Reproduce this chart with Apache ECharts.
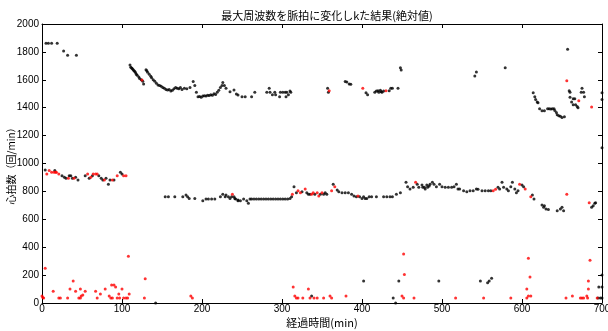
<!DOCTYPE html>
<html>
<head>
<meta charset="utf-8">
<script src="https://cdn.jsdelivr.net/npm/echarts@6/dist/echarts.min.js"></script>
<style>
html, body { margin: 0; padding: 0; background: #fff; }
#chart { width: 608px; height: 331px; }
</style>
</head>
<body>
<div id="chart"></div>
<script>
// 黒の点 [経過時間, 心拍数]
var blackPoints = [
    [5,1862],[8,1862],[12,1862],[19,1862],[27,1807],[32,1776],[43,1776],
    [110,1706],[111,1690],[112,1685],[113,1680],[114,1672],[115,1665],[116,1660],[117,1650],[118,1640],[119,1633],[121,1620],[122,1610],[124,1600],[126,1590],[127,1570],
    [130,1672],[131,1665],[132,1655],[134,1640],[136,1625],[137,1615],[139,1600],[141,1590],[143,1575],[145,1563],[147,1560],[149,1553],[151,1545],[153,1540],[155,1530],[157,1527],[159,1530],[161,1520],[163,1525],[165,1535],[167,1545],[169,1540],[171,1535],[173,1545],[175,1530],[178,1540],[181,1535],[185,1545],
    [189,1587],[191,1560],[193,1510],[195,1479],[197,1480],[199,1475],[201,1483],[203,1485],[205,1483],[207,1490],[209,1488],[211,1492],[213,1490],[215,1500],[217,1495],[219,1510],[221,1525],[223,1545],[225,1560],[226,1580],[228,1560],[230,1540],
    [235,1515],[240,1527],[243,1498],[245,1491],[250,1479],[254,1479],[262,1479],[266,1510],
    [281,1510],[284,1539],[285,1510],[288,1493],[291,1510],[292,1493],[297,1479],[298,1510],[301,1510],[304,1510],[305,1479],[306,1510],[308,1493],[310,1520],[311,1510],
    [357,1539],[358,1510],[379,1587],[381,1585],[384,1570],[386,1568],[405,1507],[407,1493],
    [416,1510],[418,1520],[420,1522],[421,1510],[423,1525],[424,1515],[425,1510],[427,1520],[434,1522],[436,1539],[438,1539],[445,1539],[448,1687],[449,1670],
    [541,1627],[543,1656],[579,1687],
    [614,1508],[616,1479],[617,1458],[619,1441],[620,1436],[622,1393],[625,1379],[628,1379],[632,1393],[634,1393],[636,1390],[638,1393],[640,1393],[641,1380],[643,1365],[644,1350],[646,1343],[648,1338],[650,1329],[653,1336],
    [657,1819],[659,1522],[660,1510],[660,1475],[662,1441],[664,1465],[666,1465],[664,1422],[667,1422],[669,1408],[670,1400],[674,1510],[675,1539],[677,1510],[678,1479],
    [700,1508],[700,1458],[700,1113],
    [4,953],[16,950],[25,913],[28,901],[30,894],[34,913],[36,913],[38,894],[42,901],[45,882],[54,913],[59,894],[63,913],[71,913],[74,894],[76,882],[80,894],[83,851],[85,882],[90,882],[98,937],[100,925],
    [154,762],[158,762],[166,762],[176,762],[180,774],[182,762],[184,750],[191,750],[201,733],[205,745],[208,745],[212,745],[216,745],[223,762],[226,779],[229,762],[230,774],[233,762],[235,750],[237,762],[240,762],[242,745],[245,733],
    [241,750],[245,738],[248,733],[252,745],[256,733],[258,715],[260,745],[262,745],[265,745],[268,745],[271,745],[274,745],[277,745],[280,745],[283,745],[286,745],[289,745],[292,745],[295,745],[298,745],[301,745],[304,745],[307,745],[310,750],[312,762],
    [315,834],[318,791],[325,798],[331,791],[333,779],[335,779],[341,779],[348,779],[352,779],[354,791],[356,779],
    [364,851],[369,810],[371,798],[375,791],[379,791],[383,791],[387,779],[390,767],[393,762],[397,762],[400,750],[402,762],[404,750],[406,750],[409,762],[412,762],[418,762],[427,762],[431,762],[435,762],[438,762],[443,779],[448,791],
    [455,865],[457,834],[460,817],[464,829],[469,851],[471,829],[475,846],[478,829],[481,846],[484,839],
    [476,829],[479,817],[482,829],[485,851],[488,865],[490,851],[493,834],[497,851],[500,834],[504,829],[508,829],[512,829],[515,834],[518,851],[520,817],[522,817],[527,805],[531,798],[535,805],[539,805],[543,817],[545,815],[550,805],[554,805],[558,805],[561,805],
    [570,829],[572,817],[575,865],[577,829],[581,817],[583,805],[586,834],[588,865],[591,817],[593,791],[595,805],[600,846],[602,834],[613,774],[615,745],
    [625,703],[627,686],[628,698],[630,674],[633,671],[644,662],[648,674],[650,686],[652,662],[687,686],[689,698],[691,715],[692,719],
    [337,50],[402,158],[439,36],[442,0],[446,158],[142,0],
    [496,158],[548,158],[557,146],[559,158],[562,177],[696,115],[695,36],[698,36],[700,36],[700,200],[700,115]
];

// 赤の点 [経過時間, 心拍数]
var redPoints = [
    [125,1599],[359,1522],[401,1539],[430,1522],[656,1594],[671,1450],[687,1405],
    [6,925],[9,950],[12,937],[15,937],[17,937],[18,937],[21,925],[33,894],[40,894],[57,925],[61,901],[64,925],[67,925],[69,925],[78,882],[88,882],[94,913],[102,913],[105,913],
    [238,779],[313,779],[320,805],[323,791],[329,817],[337,779],[339,791],[344,791],[346,767],[350,791],[362,805],[366,834],[395,767],[467,865],
    [564,805],[567,815],[597,851],[604,817],[611,762],[656,779],[684,719],
    [0,50],[1,40],[2,36],[4,249],[14,84],[21,36],[23,36],[32,36],[35,100],[39,158],[42,84],[46,36],[48,36],[49,50],[51,57],[48,100],[54,84],[67,84],[69,36],[73,64],[79,100],
    [84,50],[86,36],[88,36],[87,129],[90,129],[92,115],[94,36],[97,36],[96,64],[100,100],[102,36],[105,36],[107,36],[108,335],[109,64],[128,36],[129,174],[186,50],[188,36],
    [314,115],[316,50],[318,36],[320,36],[326,36],[333,100],[335,36],[340,36],[344,36],[352,36],[360,50],[362,36],[380,50],
    [452,351],[453,205],[450,50],[452,36],[465,36],
    [517,36],[552,36],[586,36],[606,36],[608,50],[611,50],[606,100],[608,320],[610,186],
    [655,36],[663,50],[673,36],[675,36],[677,36],[681,50],[682,36],[683,158],[683,100],[685,306],[694,36]
];

var titleText = '最大周波数を脈拍に変化しkた結果(絶対値)';
var xName = '経過時間(min)';
var yName = '心拍数（回/min）';

var chart = echarts.init(document.getElementById('chart'), null, { renderer: 'canvas' });

var baseFont = 'Liberation Sans, Arial, sans-serif';
var cjkFont = 'Noto Sans CJK JP, sans-serif';

function plainNum(v) {
    return String(v);
}

function mirrorAxis(pos) {
    return {
        type: 'value', position: pos, min: 0,
        max: pos === 'top' ? 700 : 2000,
        interval: pos === 'top' ? 100 : 200,
        axisLine: { show: true, onZero: false, lineStyle: { color: '#000', width: 1 } },
        axisTick: { show: true, inside: true, length: 4, lineStyle: { color: '#000' } },
        axisLabel: { show: false },
        splitLine: { show: false }
    };
}

var option = {
    animation: false,
    backgroundColor: '#fff',
    title: {
        text: titleText,
        left: 322, top: 5, textAlign: 'center',
        textStyle: { fontFamily: cjkFont, fontSize: 11, fontWeight: 'normal', color: '#000' }
    },
    grid: { left: 42, right: 6, top: 24, bottom: 28, containLabel: false, outerBoundsMode: 'none' },
    xAxis: [{
        type: 'value', position: 'bottom', min: 0, max: 700, interval: 100,
        name: xName, nameLocation: 'middle', nameGap: 14, nameMoveOverlap: false,
        nameTextStyle: { fontFamily: cjkFont, fontSize: 11, color: '#000', verticalAlign: 'top' },
        axisLine: { show: true, onZero: false, lineStyle: { color: '#000', width: 1 } },
        axisTick: { show: true, inside: true, length: 4, lineStyle: { color: '#000' } },
        axisLabel: { fontFamily: baseFont, fontSize: 10, color: '#000', margin: 1, formatter: plainNum },
        splitLine: { show: false }
    }, mirrorAxis('top')],
    yAxis: [{
        type: 'value', position: 'left', min: 0, max: 2000, interval: 200,
        name: yName, nameLocation: 'middle', nameGap: 26, nameMoveOverlap: false,
        nameTextStyle: { fontFamily: cjkFont, fontSize: 10, color: '#000' },
        axisLine: { show: true, onZero: false, lineStyle: { color: '#000', width: 1 } },
        axisTick: { show: true, inside: true, length: 4, lineStyle: { color: '#000' } },
        axisLabel: { fontFamily: baseFont, fontSize: 10, color: '#000', margin: 3, formatter: plainNum },
        splitLine: { show: false }
    }, mirrorAxis('right')],
    series: [{
        name: 'black', type: 'scatter', data: blackPoints,
        symbol: 'circle', symbolSize: 3,
        itemStyle: { color: '#000' }
    }, {
        name: 'red', type: 'scatter', data: redPoints,
        symbol: 'circle', symbolSize: 3,
        itemStyle: { color: '#ff0000' }
    }]
};

chart.setOption(option);
</script>
</body>
</html>
